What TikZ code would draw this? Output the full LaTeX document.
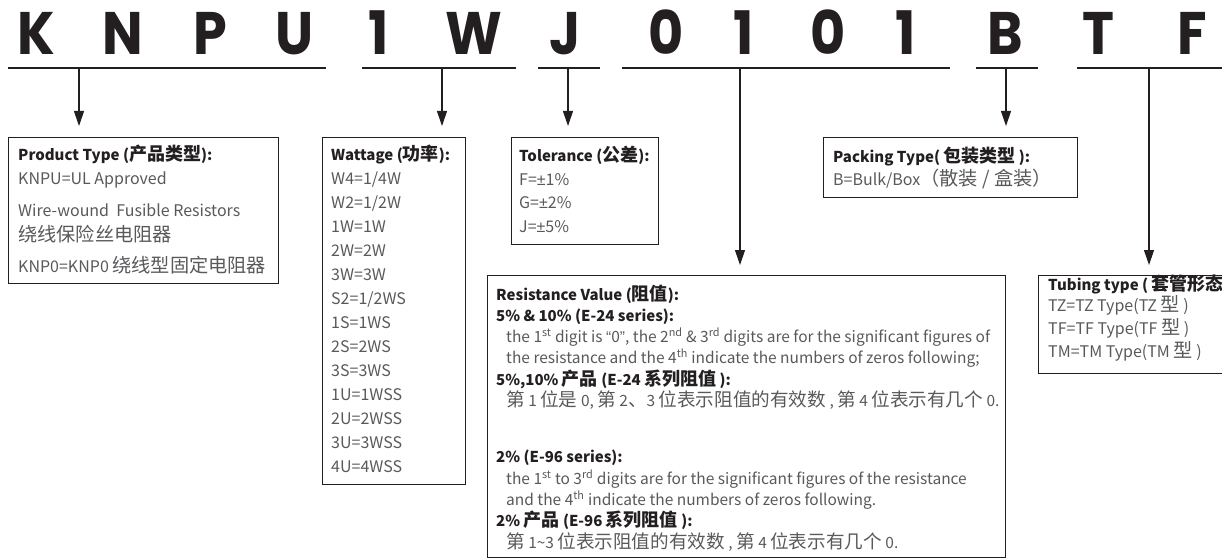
\documentclass[tikz,border=0pt]{standalone}
\usepackage{fontspec}
\setmainfont{Noto Sans CJK SC}
\newfontfamily\bigfont[FakeStretch=0.9]{Poppins}
\newfontfamily\cjk[Scale=1.2]{Noto Sans CJK SC}
\newfontfamily\lat{Liberation Sans}
\usetikzlibrary{arrows.meta}
\definecolor{ink}{HTML}{231F20}
\definecolor{body}{HTML}{58595B}
\tikzset{
  bigl/.style={font=\bigfont\bfseries\fontsize{60}{60}\selectfont, text=ink, anchor=base, inner sep=0pt},
  uline/.style={draw=ink, line width=1.4pt},
  arr/.style={draw=ink, line width=1.1pt, -{Triangle[length=15pt,width=10pt]}},
  box/.style={draw=ink, line width=1pt, inner sep=0pt, anchor=north west},
  hd/.style={font=\fontsize{15}{15}\selectfont\bfseries, text=ink, anchor=base west, inner sep=0pt},
  tx/.style={font=\fontsize{16}{16}\selectfont, text=body, anchor=base west, inner sep=0pt},
  rhd/.style={font=\fontsize{15}{15}\selectfont\bfseries, text=ink, anchor=base west, inner sep=0pt},
  rtx/.style={font=\fontsize{15.5}{15.5}\selectfont, text=body, anchor=base west, inner sep=0pt},
}
\begin{document}
\begin{tikzpicture}[x=1pt,y=-1pt]
\useasboundingbox (0,0) rectangle (1222,559);
\clip (0,0) rectangle (1222,559);
% big code letters
\node[bigl] (lK) at (36,55) {K};
\node[bigl] (lN) at (123,55) {N};
\node[bigl] (lP) at (210,55) {P};
\node[bigl] (lU) at (295,55) {U};
\node[bigl] (l1) at (379,55) {1};
\node[bigl] (lW) at (474,55) {W};
\node[bigl] (lJ) at (565,55) {J};
\node[bigl] (l0a) at (666,55) {0};
\node[bigl] (l1a) at (744,55) {1};
\node[bigl] (l0b) at (828,55) {0};
\node[bigl] (l1b) at (906,55) {1};
\node[bigl] (lB) at (1005,55) {B};
\node[bigl] (lT) at (1098,55) {T};
\node[bigl] (lF) at (1192,55) {F};
% underlines
\draw[uline] (8,68) -- (326,68);
\draw[uline] (362,68) -- (516,68);
\draw[uline] (538,68) -- (600,68);
\draw[uline] (622,68) -- (950,68);
\draw[uline] (976,68) -- (1038,68);
\draw[uline] (1077,68) -- (1230,68);
\coordinate (dK) at (79,68);
\coordinate (dW) at (442,68);
\coordinate (dJ) at (568,68);
\coordinate (dR) at (740,68);
\coordinate (dB) at (1006,68);
\coordinate (dT) at (1149,68);
% boxes
\node[box, minimum width=270pt, minimum height=146pt] (prod) at (8,137) {};
\node[box, minimum width=143pt, minimum height=347pt] (watt) at (322,137) {};
\node[box, minimum width=147pt, minimum height=107pt] (tol) at (511,137) {};
\node[box, minimum width=254pt, minimum height=60pt] (pack) at (823,137) {};
\node[box, minimum width=518pt, minimum height=282pt] (res) at (487,275) {};
\node[box, minimum width=220pt, minimum height=98pt] (tub) at (1038,275) {};
% arrows
\draw[arr, shorten >=11pt] (dK) -- (dK |- prod.north);
\draw[arr, shorten >=11pt] (dW) -- (dW |- watt.north);
\draw[arr, shorten >=11pt] (dJ) -- (dJ |- tol.north);
\draw[arr, shorten >=11pt] (dB) -- (dB |- pack.north);
\draw[arr, shorten >=10pt] (dR) -- (dR |- res.north);
\draw[arr, shorten >=10pt] (dT) -- (dT |- tub.north);
% product type
\node[hd] (p0) at (18,160) {Product Type ({\cjk 产品类型}):};
\node[tx] (p1) at (18,184) {KNPU=UL Approved};
\node[tx] (p2) at (18,216) {Wire-wound\ \ Fusible Resistors};
\node[tx] (p3) at (18,241) {\cjk 绕线保险丝电阻器};
\node[tx] (p4) at (18,272) {KNP0=KNP0 {\cjk 绕线型固定电阻器}};
% wattage
\node[hd] (w0) at (331,160) {Wattage ({\cjk 功率}):};
\node[tx] (w1) at (331,184) {W4=1/4W};
\node[tx] (w2) at (331,208) {W2=1/2W};
\node[tx] (w3) at (331,232) {1W=1W};
\node[tx] (w4) at (331,256) {2W=2W};
\node[tx] (w5) at (331,280) {3W=3W};
\node[tx] (w6) at (331,304) {S2=1/2WS};
\node[tx] (w7) at (331,328) {1S=1WS};
\node[tx] (w8) at (331,352) {2S=2WS};
\node[tx] (w9) at (331,376) {3S=3WS};
\node[tx] (w10) at (331,400) {1U=1WSS};
\node[tx] (w11) at (331,424) {2U=2WSS};
\node[tx] (w12) at (331,448) {3U=3WSS};
\node[tx] (w13) at (331,472) {4U=4WSS};
% tolerance
\node[hd] (t0) at (519,161) {Tolerance ({\cjk 公差}):};
\node[tx] (t1) at (519,185) {F={\lat ±}1\%};
\node[tx] (t2) at (519,208) {G={\lat ±}2\%};
\node[tx] (t3) at (519,232) {J={\lat ±}5\%};
% packing
\node[hd] (k0) at (833,162) {Packing Type( {\cjk 包装类型} ):};
\node[tx] (k1) at (833,185) {B=Bulk/Box{\cjk （散装 / 盒装）}};
% tubing
\node[hd] (u0) at (1048,290) {Tubing type ( {\cjk 套管形态}};
\node[tx] (u1) at (1048,311) {TZ=TZ Type(TZ {\cjk 型} )};
\node[tx] (u2) at (1048,334) {TF=TF Type(TF {\cjk 型} )};
\node[tx] (u3) at (1048,357) {TM=TM Type(TM {\cjk 型} )};
% resistance
\node[rhd] (r0) at (496,300) {Resistance Value ({\cjk 阻值}):};
\node[rhd] (r1) at (496,321) {5\% \& 10\% (E-24 series):};
\node[rtx] (r2) at (506,342) {the 1\textsuperscript{st} digit is {\lat “}0{\lat ”}, the 2\textsuperscript{nd} \& 3\textsuperscript{rd} digits are for the significant figures of};
\node[rtx] (r3) at (506,363) {the resistance and the 4\textsuperscript{th} indicate the numbers of zeros following;};
\node[rhd] (r4) at (496,385) {5\%,10\% {\cjk 产品} (E-24 {\cjk 系列阻值} ):};
\node[rtx] (r5) at (506,406) {{\cjk 第} 1 {\cjk 位是} 0, {\cjk 第} 2{\cjk 、}3 {\cjk 位表示阻值的有效数} , {\cjk 第} 4 {\cjk 位表示有几个} 0.};
\node[rhd] (r6) at (496,462) {2\% (E-96 series):};
\node[rtx] (r7) at (506,484) {the 1\textsuperscript{st} to 3\textsuperscript{rd} digits are for the significant figures of the resistance};
\node[rtx] (r8) at (506,505) {and the 4\textsuperscript{th} indicate the numbers of zeros following.};
\node[rhd] (r9) at (496,526) {2\% {\cjk 产品} (E-96 {\cjk 系列阻值} ):};
\node[rtx] (r10) at (506,548) {{\cjk 第} 1\textasciitilde 3 {\cjk 位表示阻值的有效数} , {\cjk 第} 4 {\cjk 位表示有几个} 0.};
\end{tikzpicture}
\end{document}
